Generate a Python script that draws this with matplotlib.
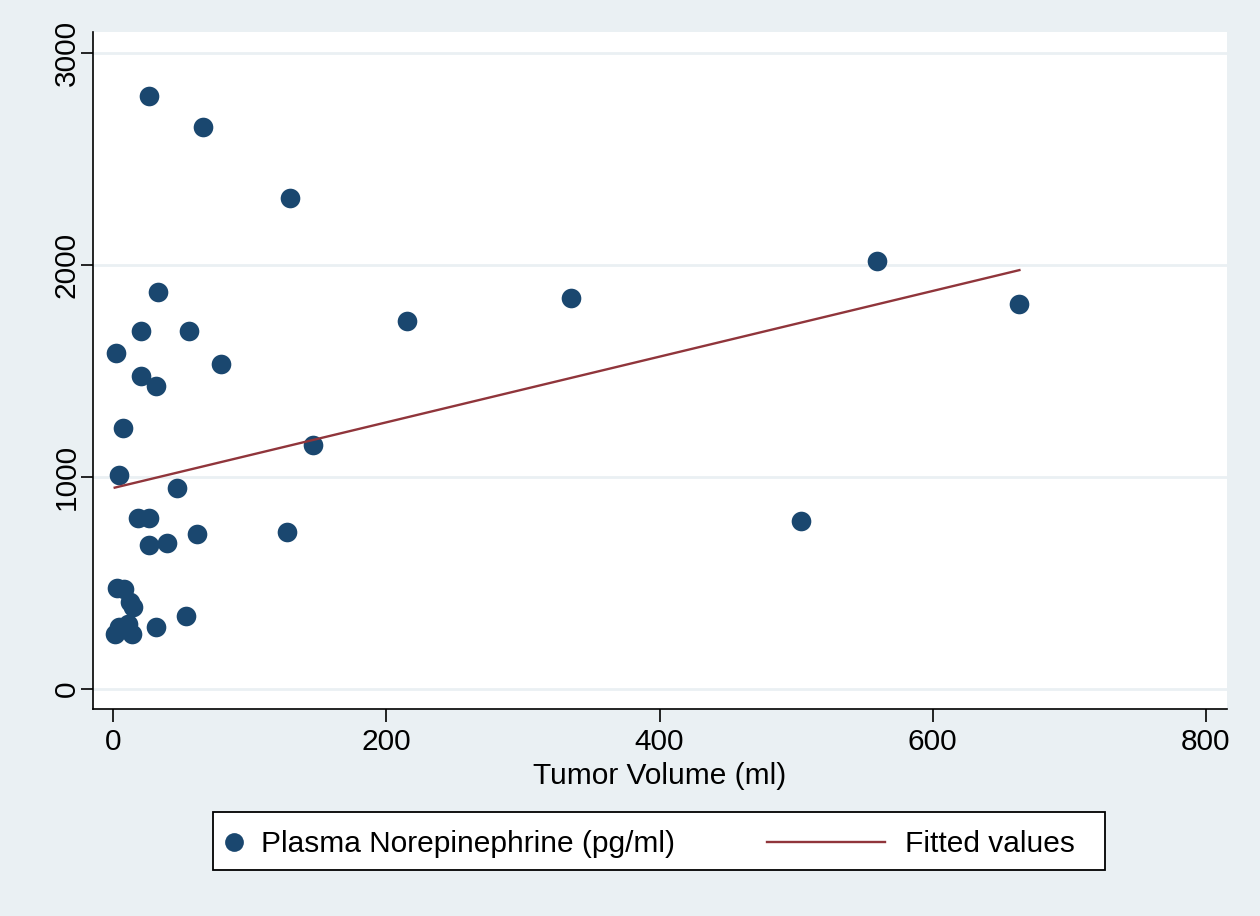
import matplotlib
matplotlib.use("Agg")
import matplotlib.pyplot as plt
from matplotlib.lines import Line2D
from matplotlib.patches import Rectangle

plt.rcParams['font.family'] = ['Liberation Sans', 'DejaVu Sans']

# Data
tumor_volume = [26.3, 65.8, 129.5, 559, 663.5, 335, 32.9, 215, 20.5, 55.6,
                2.2, 79, 20.5, 31.5, 7.3, 146.3, 4.4, 46.8, 18.3, 26.3,
                26.3, 39.5, 61.4, 127.3, 503.3,
                3.0, 7.5, 12.0, 14.5, 4.4, 10.5, 1.0, 14.0, 31.5, 53.4]
norepinephrine = [2797, 2651, 2316, 2019, 1816, 1844, 1873, 1736, 1689, 1689,
                  1585, 1533, 1476, 1429, 1231, 1151, 1009, 948, 807, 807,
                  679, 689, 731, 741, 792,
                  476, 472, 410, 387, 292, 307, 260, 258, 292, 344]
fit_x = [1.0, 663.5]
fit_y = [950, 1976]

x_ticks = [0, 200, 400, 600, 800]
y_ticks = [0, 1000, 2000, 3000]

bg = '#EAF0F3'
navy = '#1A476F'
maroon = '#90353B'
grid_col = '#EAF0F3'
fs = 21.5

fig = plt.figure(figsize=(12.6, 9.16), dpi=100, facecolor=bg)
W, H = 1260, 916
ax = fig.add_axes([93 / W, 1 - 709 / H, (1227 - 93) / W, (709 - 32) / H])
ax.set_facecolor('white')

ax.scatter(tumor_volume, norepinephrine, s=200, color=navy, zorder=3, linewidths=0)
ax.plot(fit_x, fit_y, color=maroon, lw=1.7, zorder=4)

ax.set_xlim(-14.9, 815.5)
ax.set_ylim(-94, 3099)
ax.set_xticks(x_ticks)
ax.set_yticks(y_ticks)
ax.set_xticklabels([str(v) for v in x_ticks], fontsize=fs)
ax.set_yticklabels([str(v) for v in y_ticks], fontsize=fs, rotation=90, va='center')
ax.tick_params(direction='out', length=9, width=1.2, color='black')
ax.tick_params(axis='x', pad=5)
ax.tick_params(axis='y', pad=0)
ax.yaxis.grid(True, color=grid_col, lw=2, zorder=0)
ax.set_axisbelow(True)
for s in ['top', 'right']:
    ax.spines[s].set_visible(False)
for s in ['left', 'bottom']:
    ax.spines[s].set_linewidth(1.2)
ax.set_xlabel('Tumor Volume (ml)', fontsize=fs, labelpad=4)

# Legend drawn manually in figure pixels
def fx(px):
    return px / W

def fy(py):
    return 1 - py / H

fig.patches.append(Rectangle((fx(213), fy(870)), fx(1105) - fx(213), fy(812) - fy(870),
                             transform=fig.transFigure, facecolor='white',
                             edgecolor='black', lw=1.3, zorder=5))
fig.lines.append(Line2D([fx(234)], [fy(842)], marker='o', markersize=13.5, color=navy,
                        markeredgewidth=0, transform=fig.transFigure, zorder=6))
fig.text(fx(261), fy(844), 'Plasma Norepinephrine (pg/ml)', fontsize=fs, va='center',
         ha='left', zorder=6)
fig.lines.append(Line2D([fx(767), fx(885)], [fy(842), fy(842)], color=maroon, lw=1.7,
                        transform=fig.transFigure, zorder=6))
fig.text(fx(905), fy(844), 'Fitted values', fontsize=fs, va='center', ha='left', zorder=6)

fig.savefig('out.png', dpi=100, facecolor=bg)
